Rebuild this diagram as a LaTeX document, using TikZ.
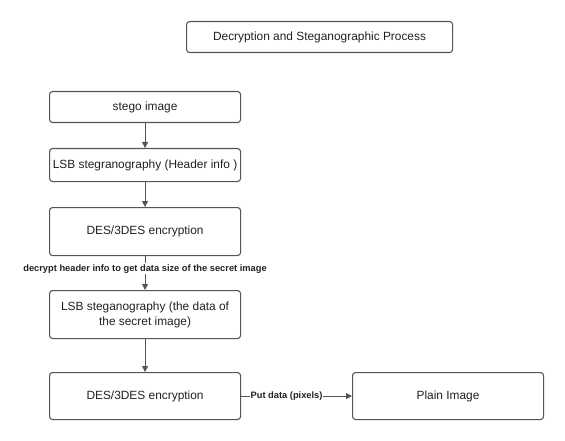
\documentclass[tikz,border=0pt]{standalone}
\usepackage{fontspec}
\setmainfont{Liberation Sans}
\usetikzlibrary{arrows.meta}
\definecolor{linec}{HTML}{555555}
\definecolor{textc}{HTML}{222222}
\tikzset{
  boxnode/.style={draw=linec, line width=1.1pt, rounded corners=3pt, fill=white, text=textc, font=\fontsize{11.9}{15}\selectfont, align=center, anchor=north west, inner sep=0pt},
  conn/.style={draw=linec, line width=1pt, -{Triangle[length=6pt,width=6pt]}},
  lbl/.style={fill=white, text=textc, font=\bfseries\fontsize{9.3}{11}\selectfont, inner sep=1pt}
}
\begin{document}
\begin{tikzpicture}[x=1pt,y=-1pt]
\useasboundingbox (0,0) rectangle (565,441);
\node[boxnode, minimum width=266pt, minimum height=31pt] (title) at (186,21) {Decryption and Steganographic Process};
\node[boxnode, minimum width=191pt, minimum height=31pt] (stego) at (49,91) {stego image};
\node[boxnode, minimum width=191pt, minimum height=33pt] (lsbh) at (49,148) {LSB stegranography (Header info )};
\node[boxnode, minimum width=191pt, minimum height=48pt] (des1) at (49,207) {DES/3DES encryption};
\node[boxnode, minimum width=191pt, minimum height=48pt] (lsbd) at (49,290) {LSB steganography (the data of\\the secret image)};
\node[boxnode, minimum width=191pt, minimum height=47pt] (des2) at (49,372) {DES/3DES encryption};
\node[boxnode, minimum width=191pt, minimum height=47pt] (plain) at (352,372) {Plain Image};
\draw[conn] (stego) -- (lsbh);
\draw[conn] (lsbh) -- (des1);
\draw[conn] (des1) -- node[lbl, pos=0.37] {decrypt header info to get data size of the secret image} (lsbd);
\draw[conn] (lsbd) -- (des2);
\draw[conn] (des2) -- node[lbl, pos=0.41] {Put data (pixels)} (plain);
\end{tikzpicture}
\end{document}
